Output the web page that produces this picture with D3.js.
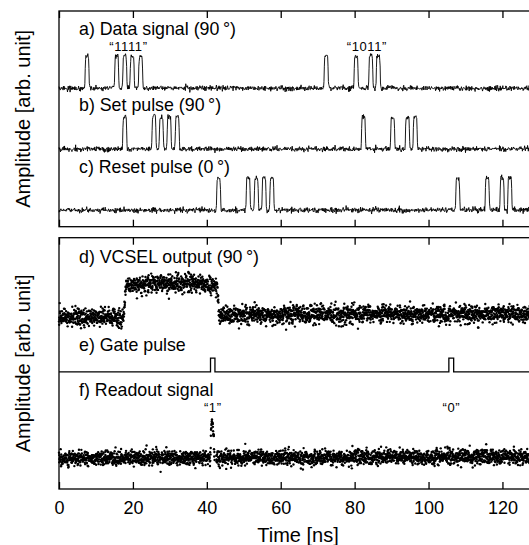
<!DOCTYPE html>
<html><head><meta charset="utf-8">
<script src="https://cdn.jsdelivr.net/npm/d3@7"></script>
<style>
body{margin:0;background:#fff}
svg{display:block;font-family:"Liberation Sans",Arial,Helvetica,sans-serif}
</style>
</head><body>
<svg id="chart" width="529" height="545"></svg>
<script>
// ---------------- data ----------------
const xTickValues = [0, 20, 40, 60, 80, 100, 120];
const xTitle = "Time [ns]";
const yTitle = "Amplitude [arb. unit]";

// top panel: pulse centre times (ns)
const dataPulses  = [7.6, 15.6, 17.8, 19.8, 22.1, 72.3, 80.4, 84.4, 86.4];
const setPulses   = [17.8, 25.7, 27.7, 29.8, 32.0, 82.4, 90.3, 94.3, 96.4];
const resetPulses = [43.2, 51.2, 53.4, 55.5, 57.6, 107.9, 115.9, 119.9, 122.0];
// baseline / amplitude of each top trace (arb. units, panel scale 0-100)
const topBaselines  = [64.2, 36.0, 7.7];
const topAmplitudes = [15.0, 14.9, 15.1];

// bottom panel (arb. units, panel scale 0-100)
const vcselTimes  = [0, 17.5, 18.1, 22, 30, 38, 42.8, 43.3, 60, 130];
const vcselLevels = [68.4, 68.4, 80.2, 81.5, 82.0, 81.6, 80.9, 69.2, 69.6, 69.6];
const gateWindows = [[41.0, 42.2], [105.5, 106.8]];
const gateLevels  = [46.6, 52.1];      // low, high
const readTimes   = [0, 40.95, 41.25, 41.5, 41.8, 42.1, 130];
const readLevels  = [12.3, 12.3, 26.5, 27.5, 22.0, 12.5, 12.8];
const readGap     = [42.1, 42.5];

const panelLabels = [
  {panel: 0, text: "a) Data signal (90\u2009°)", y: 35},
  {panel: 0, text: "b) Set pulse (90\u2009°)", y: 110.7},
  {panel: 0, text: "c) Reset pulse (0\u2009°)", y: 172.7},
  {panel: 1, text: "d) VCSEL output (90\u2009°)", y: 262.7},
  {panel: 1, text: "e) Gate pulse", y: 351},
  {panel: 1, text: "f) Readout signal", y: 396}
];
const quoteLabels = [
  {text: "\u201C1111\u201D", t: 18.8, y: 51},
  {text: "\u201C1011\u201D", t: 83.3, y: 51},
  {text: "\u201C1\u201D", t: 41.6, y: 411.7},
  {text: "\u201C0\u201D", t: 106.2, y: 412.3}
];

// ---------------- layout ----------------
const svg = d3.select("#chart");
const x = d3.scaleLinear().domain([0, 130]).range([59, 539.4]);
const panels = [{top: 11, bottom: 226.7}, {top: 237.7, bottom: 489}];
const yTop = d3.scaleLinear().domain([0, 100]).range([panels[0].bottom, panels[0].top]);
const yBot = d3.scaleLinear().domain([0, 100]).range([panels[1].bottom, panels[1].top]);

const rng = d3.randomLcg(0.4217);
const gauss = d3.randomNormal.source(rng);

// ---------------- top traces ----------------
const edge = v => 1 / (1 + Math.exp(-v / 0.05));
const pulseW = 1.05;
function trace(pulses, base, amp, sd) {
  const n = gauss(0, sd);
  const pts = [];
  for (let t = 0; t <= 130; t += 0.1) {
    let v = 0;
    for (const p of pulses) v += edge(t - (p - pulseW / 2)) * edge((p + pulseW / 2) - t);
    pts.push([t, base + amp * v + n()]);
  }
  return pts;
}
const line = sc => d3.line().x(d => x(d[0])).y(d => sc(d[1]));
[dataPulses, setPulses, resetPulses].forEach((ps, i) => {
  svg.append("path")
    .attr("d", line(yTop)(trace(ps, topBaselines[i], topAmplitudes[i], 0.6)))
    .attr("fill", "none").attr("stroke", "#000").attr("stroke-width", 0.9)
    .attr("stroke-linejoin", "round");
});

// ---------------- bottom clouds ----------------
function cloud(times, levels, sd, gap) {
  const env = d3.scaleLinear().domain(times).range(levels);
  const n = gauss(0, sd);
  const pts = [];
  for (let t = 0; t <= 130; t += 0.05) {
    if (gap && t > gap[0] && t < gap[1]) { n(); continue; }
    pts.push([t, env(t) + n()]);
  }
  return pts;
}
const vcsel = cloud(vcselTimes, vcselLevels, 1.75, null);
const readout = cloud(readTimes, readLevels, 1.5, readGap);
[vcsel, readout].forEach(pts => {
  svg.append("g").selectAll("circle").data(pts).join("circle")
    .attr("cx", d => x(d[0])).attr("cy", d => yBot(d[1])).attr("r", 1.2)
    .attr("fill", "#000");
});

// gate pulse
const gatePts = [[0, gateLevels[0]]];
gateWindows.forEach(([a, b]) => {
  gatePts.push([a, gateLevels[0]], [a, gateLevels[1]], [b, gateLevels[1]], [b, gateLevels[0]]);
});
gatePts.push([130, gateLevels[0]]);
svg.append("path").attr("d", line(yBot)(gatePts))
  .attr("fill", "none").attr("stroke", "#000").attr("stroke-width", 1.3);

// ---------------- frames & axes ----------------
panels.forEach((p, i) => {
  svg.append("rect").attr("x", x(0)).attr("y", p.top)
    .attr("width", x(130) - x(0)).attr("height", p.bottom - p.top)
    .attr("fill", "none").attr("stroke", "#000").attr("stroke-width", 1.3);
  const top = svg.append("g").attr("transform", `translate(0,${p.top})`)
    .call(d3.axisTop(x).tickValues(xTickValues).tickSizeInner(-7).tickSizeOuter(0).tickFormat(""));
  const bot = svg.append("g").attr("transform", `translate(0,${p.bottom})`)
    .call(d3.axisBottom(x).tickValues(xTickValues).tickSizeInner(-7).tickSizeOuter(0).tickPadding(12)
      .tickFormat(i === 1 ? d3.format("d") : ""));
  [top, bot].forEach(g => {
    g.select(".domain").remove();
    g.selectAll("line").attr("stroke", "#000").attr("stroke-width", 1.3);
  });
  bot.selectAll("text").attr("font-size", 18).attr("fill", "#000")
    .attr("font-family", '"Liberation Sans",Arial,sans-serif');
  // y title
  svg.append("text")
    .attr("transform", `translate(30,${(p.top + p.bottom) / 2}) rotate(-90)`)
    .attr("text-anchor", "middle").attr("font-size", 20).text(yTitle);
});

svg.append("text").attr("x", 298).attr("y", 542).attr("text-anchor", "middle")
  .attr("font-size", 20).text(xTitle);

panelLabels.forEach(l => {
  svg.append("text").attr("x", 79).attr("y", l.y).attr("font-size", 17.8).text(l.text);
});
quoteLabels.forEach(l => {
  svg.append("text").attr("x", x(l.t)).attr("y", l.y).attr("text-anchor", "middle")
    .attr("font-size", 13).attr("letter-spacing", 0.6).text(l.text);
});
</script>
</body></html>
